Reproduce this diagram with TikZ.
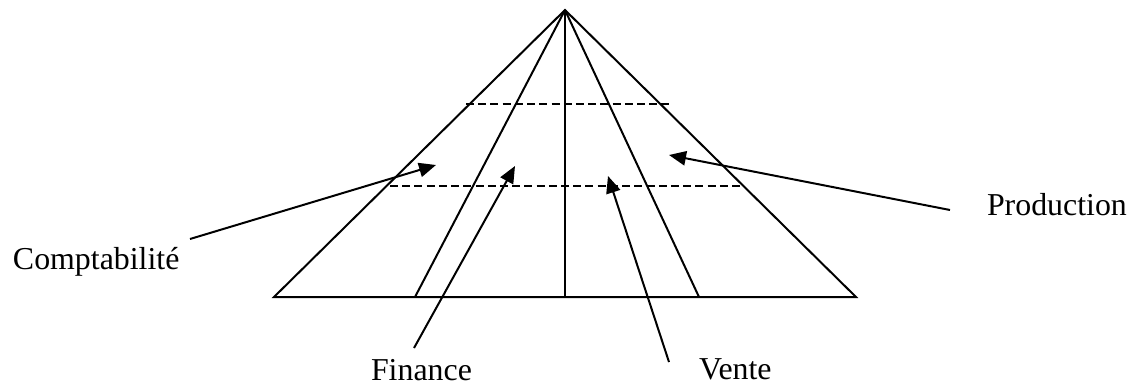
\documentclass[tikz,border=0pt]{standalone}
\usepackage{fontspec}
\setmainfont{Liberation Serif}
\usetikzlibrary{arrows.meta,positioning}

\begin{document}
\begin{tikzpicture}[x=0.3765pt, y=-0.3765pt, line width=0.75pt,
    ptr/.style={-{Triangle[length=6.4pt,width=5.4pt]}},
    level/.style={dashed, dash pattern=on 3pt off 1.6pt},
    lbl/.style={font=\fontsize{12}{14}\selectfont, inner sep=0pt, anchor=base west}]
    \useasboundingbox (0,0) rectangle (1134,383);

    % Pyramid
    \coordinate (apex) at (565,10);
    \coordinate (bl) at (274,297);
    \coordinate (br) at (856,297);
    \coordinate (b1) at (415,297);
    \coordinate (b2) at (565,297);
    \coordinate (b3) at (699,297);
    \draw (bl) -- (apex) -- (br) -- cycle;
    \foreach \p in {b1,b2,b3}
        \draw (apex) -- (\p);

    % Levels
    \coordinate (l1a) at (466,104);
    \coordinate (l1b) at (670,104);
    \coordinate (l2a) at (390,186);
    \coordinate (l2b) at (743,186);
    \draw[level] (l1a) -- (l1b);
    \draw[level] (l2a) -- (l2b);

    % Labels
    \node[lbl] (compta) at (12,269) {Comptabilité};
    \node[lbl] (fin) at (370,380) {Finance};
    \node[lbl] (vente) at (698,379) {Vente};
    \node[lbl] (prod) at (986,215) {Production};

    % Arrows
    \coordinate (compta-s) at (190,239);
    \coordinate (compta-t) at (436,165);
    \coordinate (fin-s) at (414,348);
    \coordinate (fin-t) at (515,166);
    \coordinate (vente-s) at (669,362);
    \coordinate (vente-t) at (608,176);
    \coordinate (prod-s) at (950,210);
    \coordinate (prod-t) at (669,155);
    \draw[ptr] (compta-s) -- (compta-t);
    \draw[ptr] (fin-s) -- (fin-t);
    \draw[ptr] (vente-s) -- (vente-t);
    \draw[ptr] (prod-s) -- (prod-t);
\end{tikzpicture}
\end{document}
